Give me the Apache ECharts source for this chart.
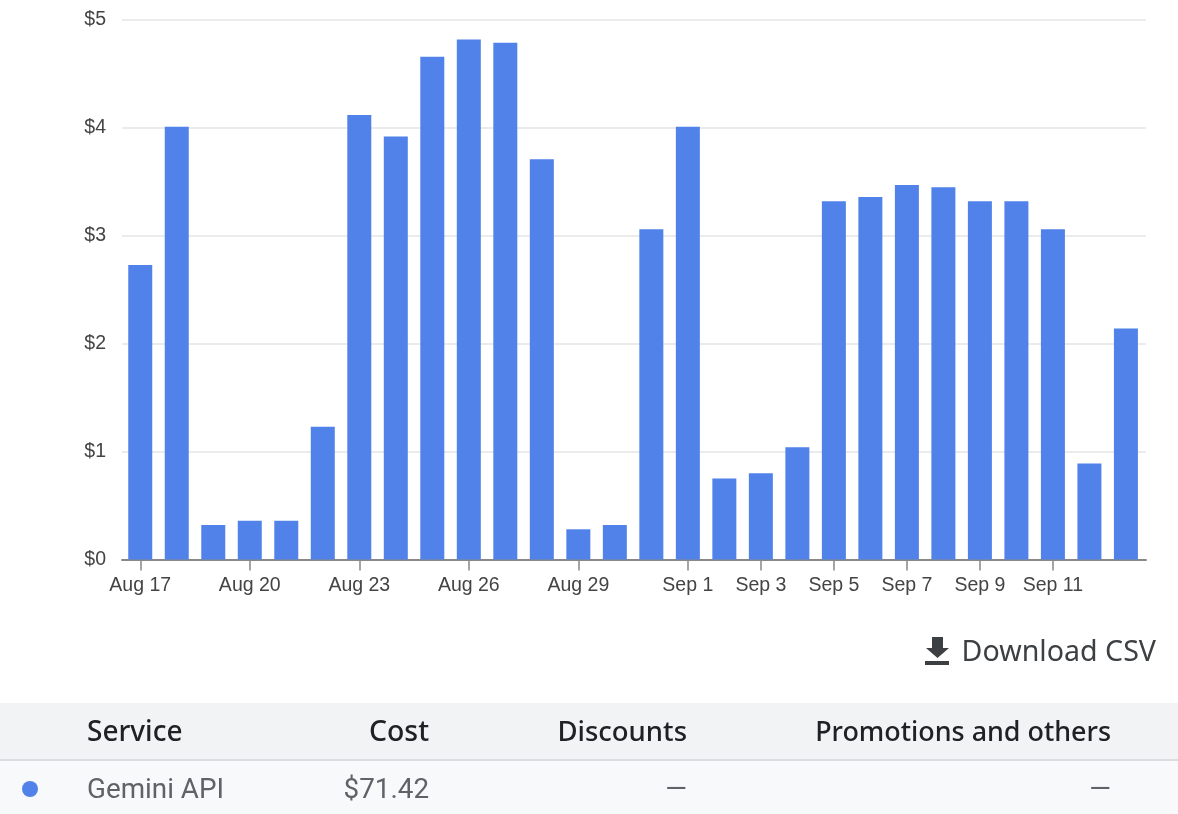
<!DOCTYPE html>
<html>
<head>
<meta charset="utf-8">
<title>Gemini API cost</title>
<script src="https://cdn.jsdelivr.net/npm/echarts@6/dist/echarts.min.js"></script>
<style>
  html, body { margin: 0; padding: 0; background: #fff; }
  #chart { width: 1178px; height: 814px; }
</style>
</head>
<body>
<div id="chart"></div>
<script>
// Daily cost per calendar day
const days = [
  'Aug 17', 'Aug 18', 'Aug 19', 'Aug 20', 'Aug 21', 'Aug 22', 'Aug 23',
  'Aug 24', 'Aug 25', 'Aug 26', 'Aug 27', 'Aug 28', 'Aug 29', 'Aug 30',
  'Aug 31', 'Sep 1', 'Sep 2', 'Sep 3', 'Sep 4', 'Sep 5', 'Sep 6',
  'Sep 7', 'Sep 8', 'Sep 9', 'Sep 10', 'Sep 11', 'Sep 12', 'Sep 13'
];
const dailyCost = [
  2.73, 4.01, 0.32, 0.36, 0.36, 1.23, 4.12,
  3.92, 4.66, 4.82, 4.79, 3.71, 0.28, 0.32,
  3.06, 4.01, 0.75, 0.80, 1.04, 3.32, 3.36,
  3.47, 3.45, 3.32, 3.32, 3.06, 0.89, 2.14
];
// Days that carry a tick and a label on the time axis
const labelledDays = [
  'Aug 17', 'Aug 20', 'Aug 23', 'Aug 26', 'Aug 29',
  'Sep 1', 'Sep 3', 'Sep 5', 'Sep 7', 'Sep 9', 'Sep 11'
];
const tableHeaders = ['Service', 'Cost', 'Discounts', 'Promotions and others'];
const tableRow = ['Gemini API', '$71.42', '—', '—'];

const BLUE = '#5082ea';
const labelledIndexes = labelledDays.map((d) => days.indexOf(d));

const cellText = (text, x, y, align, font, size, weight, fill) => ({
  type: 'text',
  x, y, z: 10,
  style: {
    text, fill, align, verticalAlign: 'middle',
    fontFamily: font, fontSize: size, fontWeight: weight
  }
});

const chart = echarts.init(document.getElementById('chart'));
chart.setOption({
  animation: false,
  backgroundColor: '#ffffff',
  grid: { left: 122, right: 32, top: 20, bottom: 254.5 },
  xAxis: {
    // Day index scale; the span leaves a slightly wider gap after the last bar
    type: 'value',
    min: -0.5,
    max: 27.55,
    splitLine: { show: false },
    axisLine: { show: true, lineStyle: { color: '#888888', width: 2 } },
    axisTick: {
      show: true,
      customValues: labelledIndexes,
      length: 11,
      lineStyle: { color: '#888888', width: 1.5 }
    },
    axisLabel: {
      customValues: labelledIndexes,
      formatter: (v) => days[v],
      showMinLabel: true,
      showMaxLabel: true,
      hideOverlap: false,
      color: '#444444',
      fontFamily: 'Liberation Sans',
      fontSize: 19.5,
      margin: 16
    }
  },
  yAxis: {
    type: 'value',
    min: 0,
    max: 5,
    interval: 1,
    axisLine: { show: false },
    axisTick: { show: false },
    splitLine: { lineStyle: { color: '#ebebeb', width: 2 } },
    axisLabel: {
      formatter: (v) => '$' + v,
      color: '#444444',
      fontFamily: 'Liberation Sans',
      fontSize: 19.5,
      margin: 16
    }
  },
  series: [{
    type: 'bar',
    data: dailyCost.map((v, i) => [i, v]),
    barWidth: 24,
    itemStyle: { color: BLUE }
  }],
  graphic: [
    // Download control
    { type: 'polygon', z: 10, shape: { points: [[932, 637], [943, 637], [943, 648], [949, 648], [937.5, 658], [926, 648], [932, 648]] }, style: { fill: '#3c4043' } },
    { type: 'rect', z: 10, shape: { x: 925, y: 661, width: 24, height: 4 }, style: { fill: '#3c4043' } },
    cellText('Download CSV', 1156, 653, 'right', 'Noto Sans', 28.6, 400, '#3c4043'),
    // Cost table
    { type: 'rect', z: 5, shape: { x: 0, y: 703, width: 1178, height: 57 }, style: { fill: '#f1f3f4' } },
    { type: 'rect', z: 5, shape: { x: 0, y: 760, width: 1178, height: 54 }, style: { fill: '#f8f9fa' } },
    { type: 'rect', z: 6, shape: { x: 0, y: 759, width: 1178, height: 2 }, style: { fill: '#dadce0' } },
    cellText(tableHeaders[0], 87, 733, 'left', 'Noto Sans', 28, 500, '#202124'),
    cellText(tableHeaders[1], 429, 733, 'right', 'Noto Sans', 28.4, 500, '#202124'),
    cellText(tableHeaders[2], 687, 733, 'right', 'Noto Sans', 27.5, 500, '#202124'),
    cellText(tableHeaders[3], 1111, 733, 'right', 'Noto Sans', 26.9, 500, '#202124'),
    { type: 'circle', z: 10, shape: { cx: 30, cy: 789, r: 8 }, style: { fill: BLUE } },
    cellText(tableRow[0], 87, 791, 'left', 'Roboto', 27.8, 400, '#5f6368'),
    cellText(tableRow[1], 429, 791, 'right', 'Roboto', 27.8, 400, '#5f6368'),
    cellText(tableRow[2], 687, 791, 'right', 'Roboto', 27.8, 400, '#5f6368'),
    cellText(tableRow[3], 1111, 791, 'right', 'Roboto', 27.8, 400, '#5f6368')
  ]
});
</script>
</body>
</html>
